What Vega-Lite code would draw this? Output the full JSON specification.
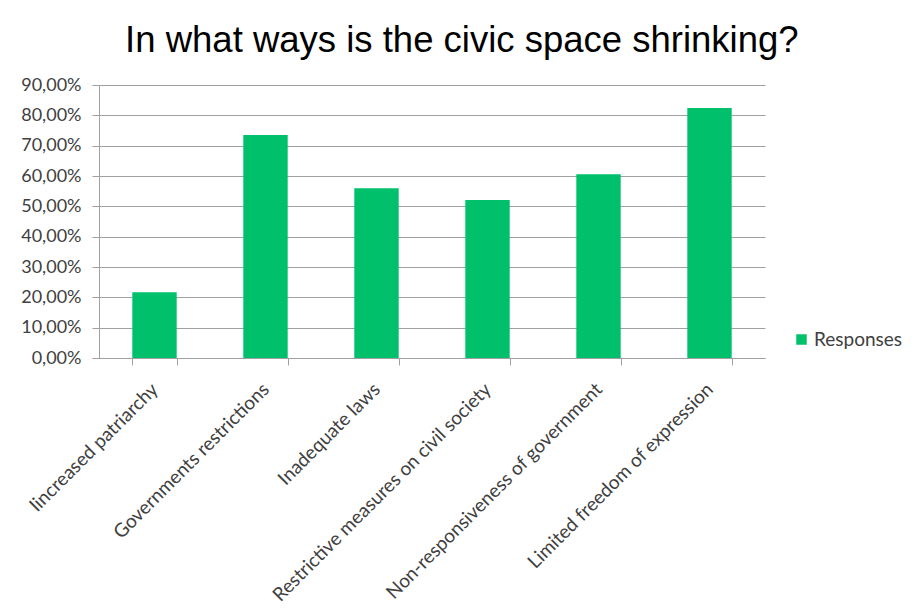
{
  "$schema": "https://vega.github.io/schema/vega-lite/v6.json",
  "width": 666,
  "height": 273,
  "padding": {"left": 20, "top": 22, "right": 5, "bottom": 5},
  "background": "white",
  "title": {
    "text": "In what ways is the civic space shrinking?",
    "font": "Liberation Sans",
    "fontSize": 36.5,
    "fontWeight": "normal",
    "color": "#000000",
    "anchor": "middle",
    "frame": "bounds",
    "offset": 17
  },
  "data": {
    "values": [
      {"category": "Iincreased patriarchy", "value": 0.217},
      {"category": "Governments restrictions", "value": 0.735},
      {"category": "Inadequate laws", "value": 0.56},
      {"category": "Restrictive measures on civil society", "value": 0.521},
      {"category": "Non-responsiveness of government", "value": 0.606},
      {"category": "Limited freedom of expression", "value": 0.824}
    ]
  },
  "mark": {"type": "bar"},
  "encoding": {
    "x": {
      "field": "category",
      "type": "nominal",
      "sort": null,
      "scale": {"paddingInner": 0.6, "paddingOuter": 0.3},
      "axis": {
        "title": null,
        "labelAngle": -45,
        "labelAlign": "right",
        "labelBaseline": "middle",
        "labelFont": "Lato",
        "labelFontSize": 19,
        "labelColor": "#404040",
        "labelPadding": 21,
        "labelLimit": 500,
        "tickBand": "extent",
        "tickSize": 7,
        "tickColor": "#a0a0a0",
        "domainColor": "#a0a0a0",
        "grid": false
      }
    },
    "y": {
      "field": "value",
      "type": "quantitative",
      "scale": {"domain": [0, 0.9], "nice": false},
      "axis": {
        "title": null,
        "values": [0, 0.1, 0.2, 0.3, 0.4, 0.5, 0.6, 0.7, 0.8, 0.9],
        "labelExpr": "replace(format(datum.value, '.2%'), '.', ',')",
        "labelFont": "Lato",
        "labelFontSize": 18,
        "labelColor": "#404040",
        "labelPadding": 11,
        "tickSize": 7,
        "tickColor": "#a0a0a0",
        "domainColor": "#a0a0a0",
        "grid": true,
        "gridColor": "#a0a0a0"
      }
    },
    "color": {
      "datum": "Responses",
      "type": "nominal",
      "scale": {"range": ["#00c06b"]},
      "legend": {
        "title": null,
        "orient": "none",
        "legendX": 693,
        "legendY": 245,
        "symbolType": "square",
        "symbolSize": 110,
        "symbolStrokeWidth": 0,
        "labelFont": "Lato",
        "labelFontSize": 19,
        "labelColor": "#404040",
        "labelOffset": 3
      }
    }
  },
  "config": {"view": {"stroke": null}}
}
